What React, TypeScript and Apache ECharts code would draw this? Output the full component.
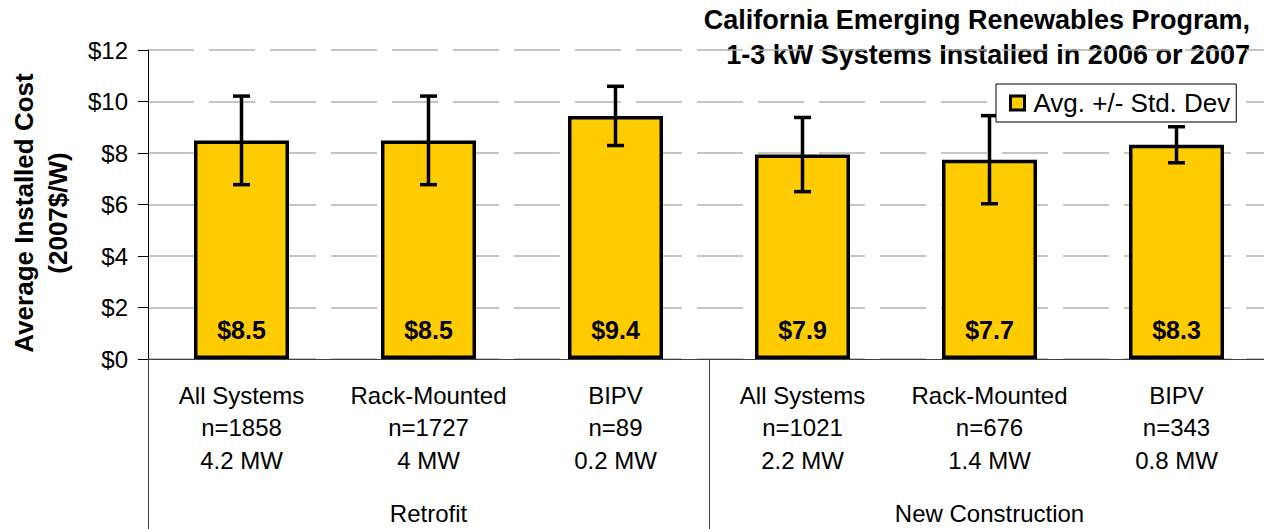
import React, { useEffect, useRef } from "react";
import * as echarts from "echarts";

const FONT = "'Liberation Sans', Arial, sans-serif";

const categories = [
  "All Systems\nn=1858\n4.2 MW",
  "Rack-Mounted\nn=1727\n4 MW",
  "BIPV\nn=89\n0.2 MW",
  "All Systems\nn=1021\n2.2 MW",
  "Rack-Mounted\nn=676\n1.4 MW",
  "BIPV\nn=343\n0.8 MW",
];
const groups = ["Retrofit", "New Construction"];
const averages = [8.49, 8.49, 9.44, 7.94, 7.74, 8.32];
const stdDevs = [1.72, 1.72, 1.15, 1.44, 1.71, 0.7];
const seriesName = "Avg. +/- Std. Dev";
const titleText = "California Emerging Renewables Program,\n1-3 kW Systems Installed in 2006 or 2007";
const yAxisTitle = "Average Installed Cost\n(2007$/W)";
const yMin = 0;
const yMax = 12;
const yStep = 2;

export default function App() {
  const ref = useRef<HTMLDivElement>(null);

  useEffect(() => {
    if (!ref.current) return;
    const chart = echarts.init(ref.current, null, { renderer: "svg" });
    const errorData = averages.map((a, i) => [i, a - stdDevs[i], a + stdDevs[i]]);

    chart.setOption({
      animation: false,
      backgroundColor: "#fff",
      textStyle: { fontFamily: FONT },
      grid: { left: 148, top: 50, width: 1122, height: 309, outerBoundsMode: "none" },
      legend: {
        data: [seriesName],
        left: 996,
        top: 84,
        z: 10,
        padding: [6, 6, 6, 13],
        backgroundColor: "#fff",
        borderColor: "#000",
        borderWidth: 1,
        itemWidth: 14,
        itemHeight: 14,
        icon: "rect",
        itemStyle: { color: "#FFCC00", borderColor: "#000", borderWidth: 3 },
        textStyle: { fontSize: 26, color: "#000", fontFamily: FONT, lineHeight: 26, padding: [0, 0, 0, 4] },
      },
      xAxis: [
        {
          type: "category",
          data: categories,
          position: "bottom",
          axisLine: { show: true, lineStyle: { color: "#404040", width: 1 } },
          axisTick: { show: false },
          axisLabel: {
            interval: 0,
            fontSize: 24,
            lineHeight: 32.5,
            margin: 20,
            color: "#000",
            fontFamily: FONT,
          },
          splitLine: { show: false },
        },
        {
          type: "category",
          data: groups,
          position: "bottom",
          axisLine: { show: false },
          axisTick: { show: true, length: 170, lineStyle: { color: "#404040", width: 1 } },
          axisLabel: { fontSize: 24, lineHeight: 32, margin: 138, color: "#000", fontFamily: FONT },
          splitLine: { show: false },
        },
      ],
      yAxis: {
        type: "value",
        min: yMin,
        max: yMax,
        interval: yStep,
        axisLine: { show: true, lineStyle: { color: "#000", width: 1 } },
        axisTick: { show: true, length: 10, lineStyle: { color: "#000", width: 1 } },
        axisLabel: {
          formatter: (v: number) => "$" + v,
          fontSize: 24,
          margin: 20,
          color: "#000",
          fontFamily: FONT,
        },
        splitLine: { show: true, lineStyle: { color: "#b3b3b3", width: 1.5, type: [46, 15] } },
      },
      series: [
        {
          name: seriesName,
          type: "bar",
          xAxisIndex: 0,
          data: averages,
          barWidth: 95,
          itemStyle: { color: "#FFCC00", borderColor: "#000", borderWidth: 3.5 },
          label: {
            show: true,
            position: "insideBottom",
            distance: 17,
            formatter: (p: any) => "$" + Number(p.value).toFixed(1),
            fontSize: 25,
            fontWeight: "bold",
            color: "#000",
            fontFamily: FONT,
          },
        },
        {
          name: "Std. Dev",
          type: "custom",
          xAxisIndex: 0,
          silent: true,
          z: 3,
          data: errorData,
          encode: { x: 0, y: [1, 2] },
          renderItem: (_params: any, api: any) => {
            const idx = api.value(0);
            const lo = api.coord([idx, api.value(1)]);
            const hi = api.coord([idx, api.value(2)]);
            const hw = 8.5;
            const style = { stroke: "#000", lineWidth: 3.5 };
            return {
              type: "group",
              children: [
                { type: "line", shape: { x1: hi[0], y1: hi[1], x2: lo[0], y2: lo[1] }, style },
                { type: "line", shape: { x1: hi[0] - hw, y1: hi[1], x2: hi[0] + hw, y2: hi[1] }, style },
                { type: "line", shape: { x1: lo[0] - hw, y1: lo[1], x2: lo[0] + hw, y2: lo[1] }, style },
              ],
            };
          },
        },
      ],
      graphic: [
        {
          type: "text",
          x: 1250,
          y: 37.5,
          style: {
            text: titleText,
            align: "right",
            verticalAlign: "middle",
            lineHeight: 35,
            fontSize: 27,
            fontWeight: "bold",
            fontFamily: FONT,
            fill: "#000",
          },
        },
        {
          type: "text",
          x: 41,
          y: 213,
          rotation: Math.PI / 2,
          style: {
            text: yAxisTitle,
            align: "center",
            verticalAlign: "middle",
            lineHeight: 34,
            fontSize: 26,
            fontWeight: "bold",
            fontFamily: FONT,
            fill: "#000",
          },
        },
      ],
    });

    return () => chart.dispose();
  }, []);

  return (
    <div
      ref={ref}
      style={{ position: "fixed", left: 0, top: 0, width: 1264, height: 529 }}
    />
  );
}
